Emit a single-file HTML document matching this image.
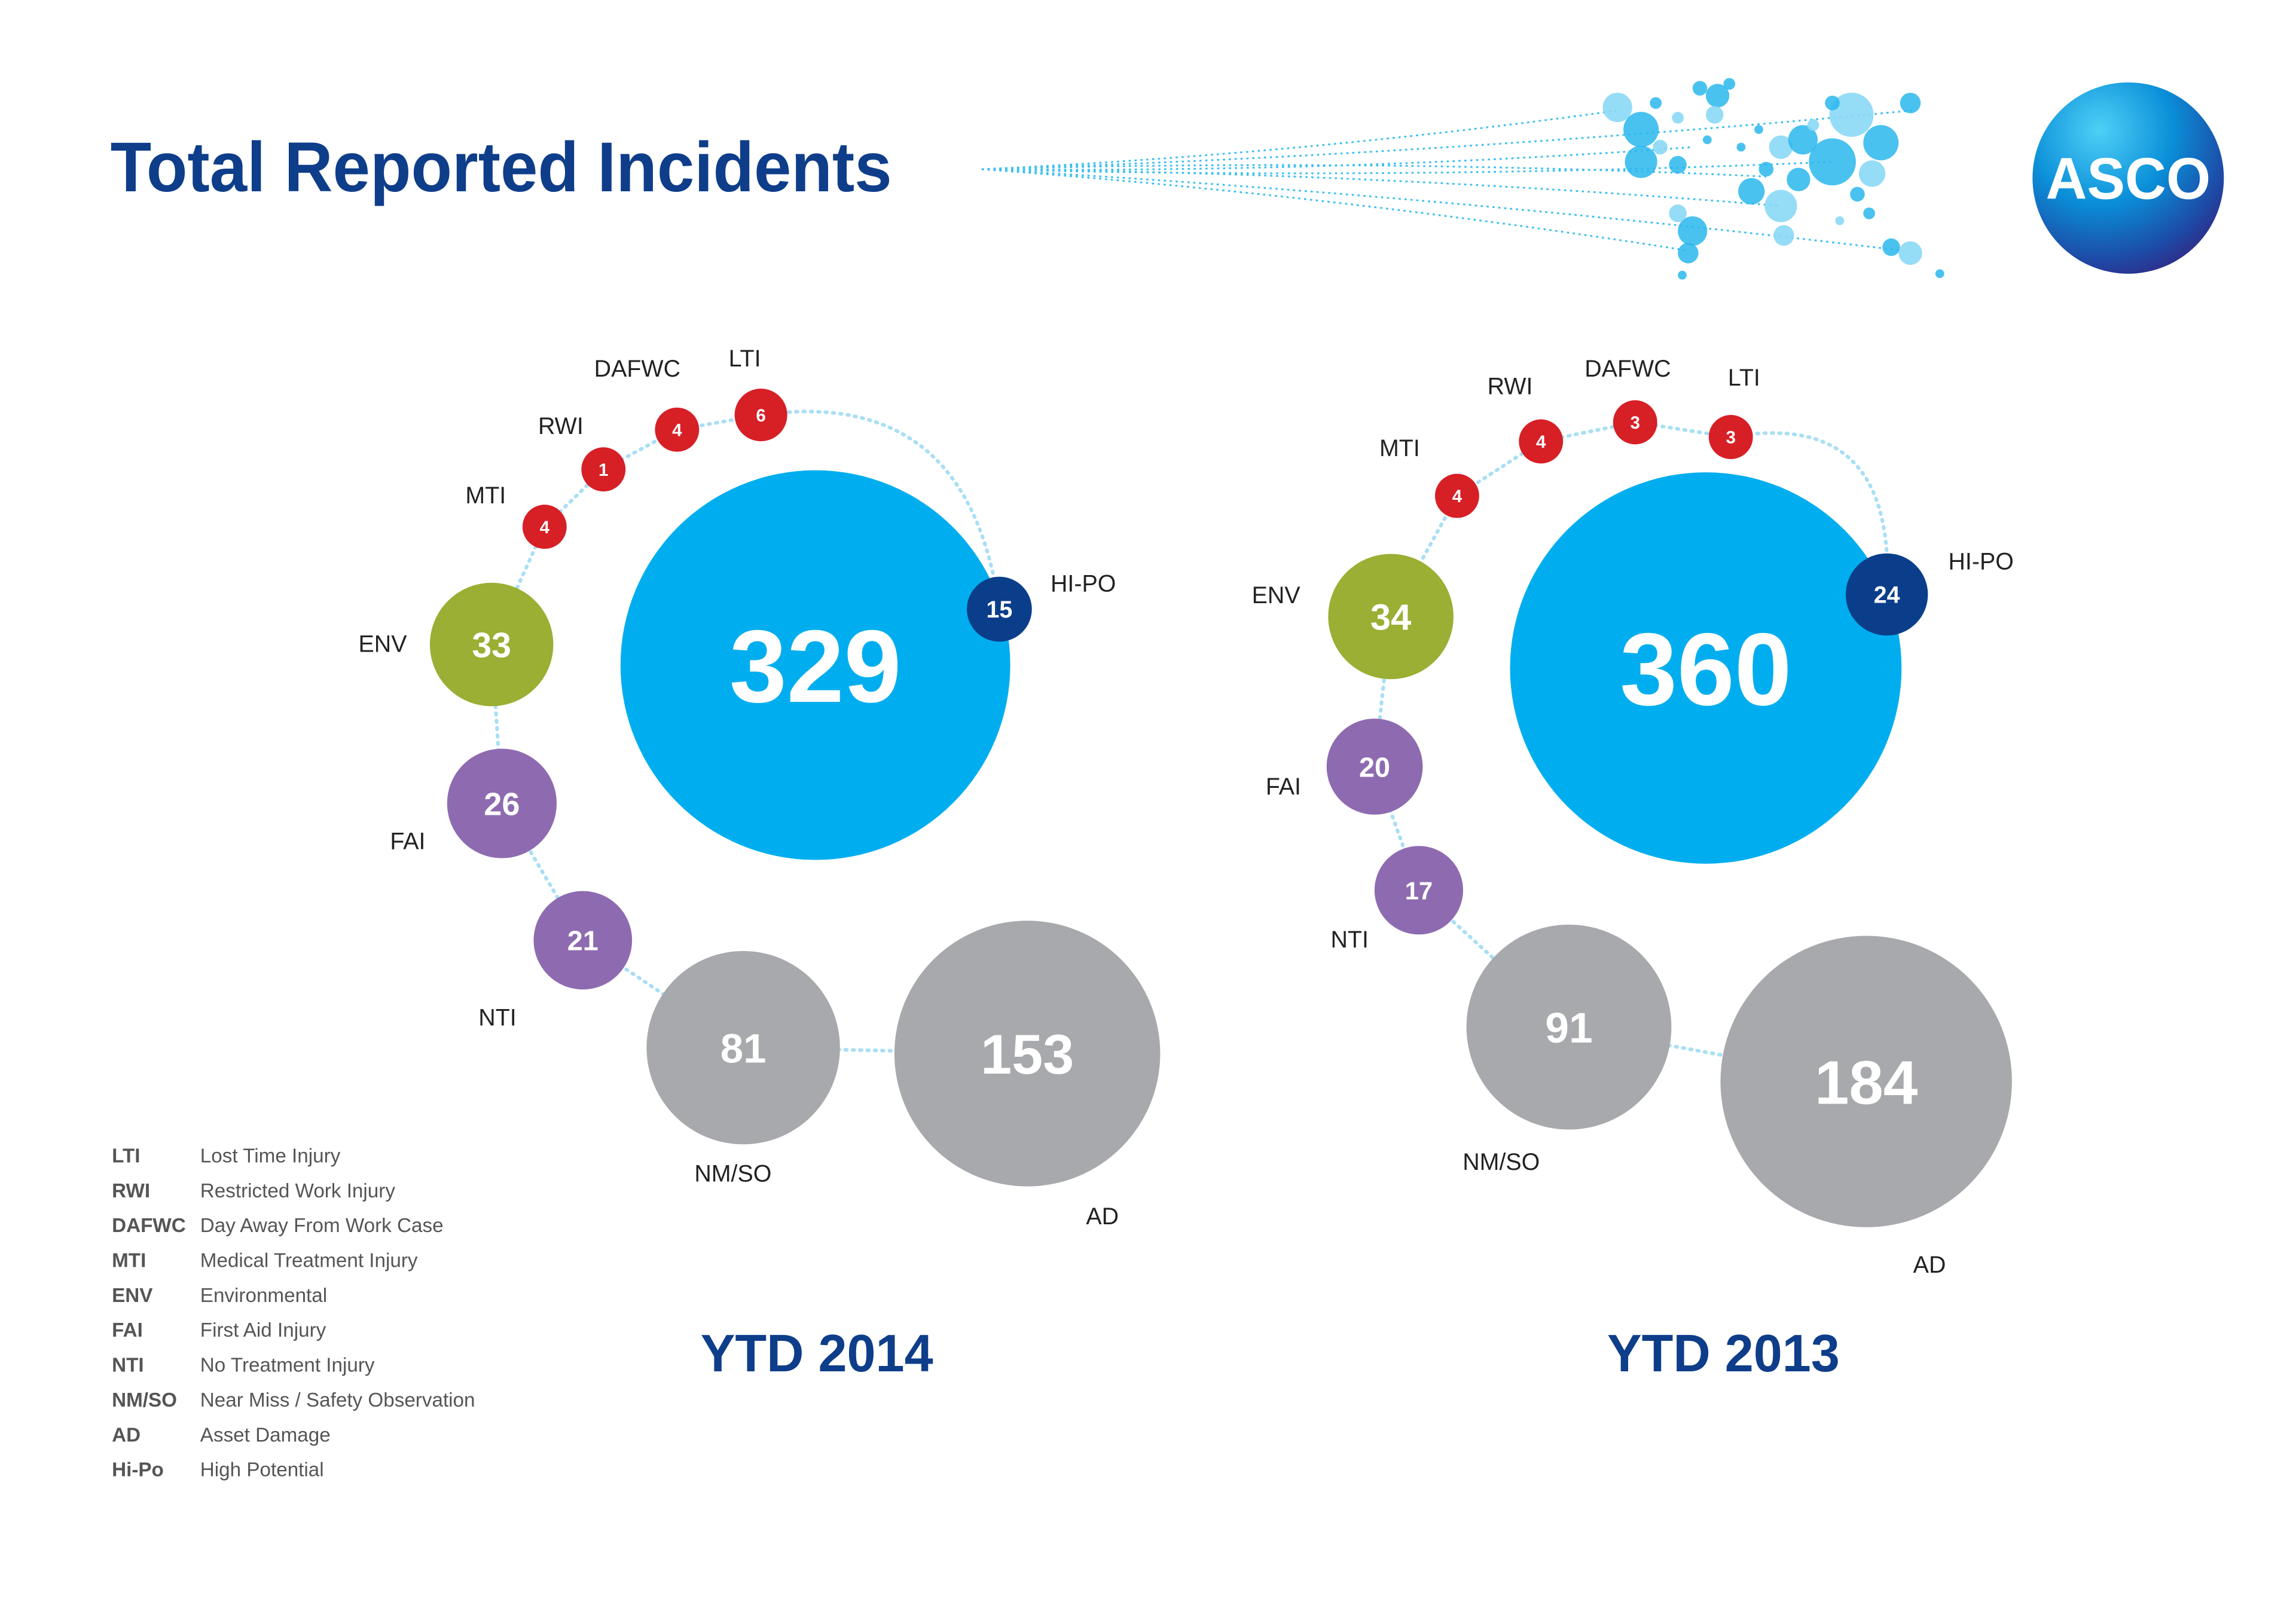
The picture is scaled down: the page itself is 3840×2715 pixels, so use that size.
<!DOCTYPE html>
<html><head><meta charset="utf-8"><style>
html,body{margin:0;padding:0;background:#fff;}
svg{display:block;font-family:"Liberation Sans",sans-serif;}
</style></head><body>
<svg id="chart" width="3840" height="2715" viewBox="0 0 1560 1103" xmlns="http://www.w3.org/2000/svg">
<defs>
<radialGradient id="logoGrad" cx="0.35" cy="0.25" r="0.85">
<stop offset="0" stop-color="#4fd0f7"/><stop offset="0.45" stop-color="#0a8fd8"/><stop offset="0.8" stop-color="#1d4aa6"/><stop offset="1" stop-color="#34237f"/>
</radialGradient>
</defs>
<text x="75" y="130" font-size="48" font-weight="bold" fill="#0e3d8a" textLength="531" lengthAdjust="spacingAndGlyphs">Total Reported Incidents</text>
<g id="map"></g>
<g>
<circle cx="1446" cy="121" r="65" fill="url(#logoGrad)"/>
<text x="1446" y="135" font-size="40" font-weight="bold" fill="#fff" text-anchor="middle" textLength="112" lengthAdjust="spacingAndGlyphs">ASCO</text>
</g>
<g id="c2014"></g>
<g id="c2013"></g>
<text x="555" y="932" font-size="36" font-weight="bold" fill="#0e3d8a" text-anchor="middle" textLength="158" lengthAdjust="spacingAndGlyphs">YTD 2014</text>
<text x="1171" y="932" font-size="36" font-weight="bold" fill="#0e3d8a" text-anchor="middle" textLength="158" lengthAdjust="spacingAndGlyphs">YTD 2013</text>
<g id="legend"></g>
</svg>
<script>
const NS="http://www.w3.org/2000/svg";
const categories=["HI-PO","LTI","DAFWC","RWI","MTI","ENV","FAI","NTI","NM/SO","AD"];
const values2014=[15,6,4,1,4,33,26,21,81,153];
const values2013=[24,3,3,4,4,34,20,17,91,184];
const total2014=329;
const total2013=360;
const legendAbbr=["LTI","RWI","DAFWC","MTI","ENV","FAI","NTI","NM/SO","AD","Hi-Po"];
const legendDesc=["Lost Time Injury","Restricted Work Injury","Day Away From Work Case","Medical Treatment Injury","Environmental","First Aid Injury","No Treatment Injury","Near Miss / Safety Observation","Asset Damage","High Potential"];

const colorOf={"HI-PO":"#0b3e8a","LTI":"#d71f26","DAFWC":"#d71f26","RWI":"#d71f26","MTI":"#d71f26","ENV":"#9aaf33","FAI":"#8e6bb0","NTI":"#8e6bb0","NM/SO":"#a7a9ac","AD":"#a7a9ac"};
function rScale(v,cat){const k=cat==="HI-PO"?5.7:7.3;return Math.max(15,k*Math.sqrt(v));}
function fontScale(r){return r>100?Math.round(r*0.5):r>60?Math.round(r*0.42):r>25?Math.round(r*0.58):r>20?16:12;}

const layouts={
 c2014:{total:[554,452],pos:[[679,414],[517,282],[460,292],[410,319],[370,358],[334,438],[341,546],[396,639],[505,712],[698,716]],
  lab:[[736,396,"middle"],[506,243,"middle"],[433,250,"middle"],[381,289,"middle"],[330,336,"middle"],[260,437,"middle"],[277,571,"middle"],[338,691,"middle"],[498,797,"middle"],[749,826,"middle"]]},
 c2013:{total:[1159,454],pos:[[1282,404],[1176,297],[1111,287],[1047,300],[990,337],[945,419],[934,521],[964,605],[1066,698],[1268,735]],
  lab:[[1346,381,"middle"],[1185,256,"middle"],[1106,250,"middle"],[1026,262,"middle"],[951,304,"middle"],[867,404,"middle"],[872,534,"middle"],[917,638,"middle"],[1020,789,"middle"],[1311,859,"middle"]]}
};

function mk(tag,attrs,parent){const e=document.createElementNS(NS,tag);for(const k in attrs)e.setAttribute(k,attrs[k]);parent.appendChild(e);return e;}

function draw(id,vals,total){
 const g=document.getElementById(id),L=layouts[id];
 const p=L.pos;
 let d=`M${p[0][0]},${p[0][1]} Q${(p[0][0]+p[1][0])/2+60},${p[1][1]-20} ${p[1][0]},${p[1][1]}`;
 for(let i=2;i<p.length;i++)d+=` L${p[i][0]},${p[i][1]}`;
 const path=mk("path",{d:d,fill:"none",stroke:"#a9dff4","stroke-width":2.5,"stroke-dasharray":"1 4","stroke-linecap":"round"},g);
 
 
 const tr=rScale(total,"TOTAL");
 const tc=mk("circle",{cx:L.total[0],cy:L.total[1],r:Math.min(tr,133),fill:"#00aeef"},g);
 
 
 const tt=mk("text",{x:L.total[0],y:L.total[1]+25,"font-size":70,"font-weight":"bold",fill:"#fff","text-anchor":"middle"},g);
 tt.textContent=total;
 
 
 vals.forEach((v,i)=>{
  const r=rScale(v,categories[i]);
  const c=mk("circle",{cx:p[i][0],cy:p[i][1],r:r,fill:colorOf[categories[i]]},g);
  
  
  const fs=fontScale(r);
  const t=mk("text",{x:p[i][0],y:p[i][1]+fs*0.36,"font-size":fs,"font-weight":"bold",fill:"#fff","text-anchor":"middle"},g);
  t.textContent=v;
  
  
  const lb=L.lab[i];
  const l=mk("text",{x:lb[0],y:lb[1]+6,"font-size":16,fill:"#222","text-anchor":lb[2]},g);
  l.textContent=categories[i];
  
  
 });
}
draw("c2014",values2014,total2014);
draw("c2013",values2013,total2013);

const lg=document.getElementById("legend");
legendAbbr.forEach((a,i)=>{
 const y=790+i*23.7;
 const t1=mk("text",{x:76,y:y,"font-size":13.5,"font-weight":"bold",fill:"#555"},lg);
 t1.textContent=a;
 
 
 const t2=mk("text",{x:136,y:y,"font-size":13.5,fill:"#555"},lg);
 t2.textContent=legendDesc[i];
 
 
});

const mg=document.getElementById("map");
const lineEnds=[[1100,75],[1150,100],[1200,120],[1245,110],[1290,170],[1210,140],[1145,170],[1300,75]];
lineEnds.forEach(e=>{
 const l=mk("path",{d:`M667,115 Q${(667+e[0])/2},${(115+e[1])/2+ (e[1]>115?-10:10)} ${e[0]},${e[1]}`,fill:"none",stroke:"#3cc0ee","stroke-width":1.2,"stroke-dasharray":"1.5 2.5"},mg);
 
 
});
const dots=[[1099,73,10],[1115,88,12],[1115,110,11],[1128,100,5],[1140,112,6],[1125,70,4],[1140,80,4],[1155,60,5],[1167,65,8],[1165,78,6],[1175,57,4],[1150,157,10],[1140,145,6],[1147,172,7],[1143,187,3],[1210,100,8],[1225,95,10],[1245,110,16],[1258,78,15],[1278,97,12],[1298,70,7],[1272,118,9],[1262,132,5],[1190,130,9],[1210,140,11],[1222,122,8],[1200,115,5],[1212,160,7],[1245,70,5],[1285,168,6],[1298,172,8],[1318,186,3],[1195,88,3],[1232,85,4],[1183,100,3],[1270,145,4],[1250,150,3],[1160,95,3]];
dots.forEach((d,i)=>{
 const c=mk("circle",{cx:d[0],cy:d[1],r:d[2],fill:i%3==0?"#8ad8f6":"#2ab7ec","fill-opacity":i%3==0?0.9:0.85},mg);
 
 
});
</script>
</body></html>
